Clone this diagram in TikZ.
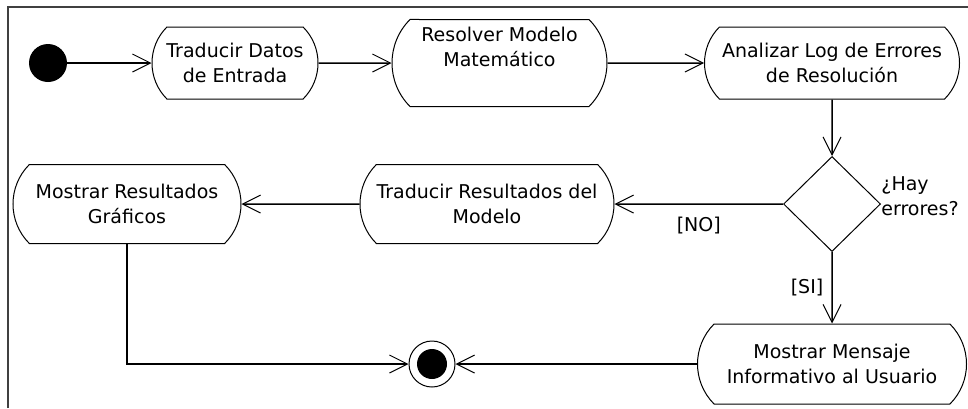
\documentclass[tikz,border=0pt]{standalone}
\usepackage{fontspec}
\setmainfont{DejaVu Sans}
\usetikzlibrary{arrows.meta,shapes.geometric,shapes.misc}

\begin{document}
\begin{tikzpicture}[x=0.5pt,y=-0.5pt,
  action/.style={draw,rounded rectangle,rounded rectangle arc length=90,align=center,inner sep=0pt,
    line width=0.5pt,font=\fontsize{9.5}{12.5}\selectfont},
  flow/.style={line width=0.75pt,-{Straight Barb[length=9pt,width=9pt,line width=0.5pt]}},
  guard/.style={inner sep=0pt,font=\fontsize{9.5}{12.5}\selectfont}]
  \useasboundingbox (0,0) rectangle (968,408);
  \draw[line width=1pt,black!75] (8,408) -- (8,7) -- (968,7);
  \node[circle,fill,minimum size=19pt,inner sep=0pt] (inicio) at (48,63) {};
  \node[action,minimum width=83pt,minimum height=36pt] (traddatos) at (235,63) {Traducir Datos\\de Entrada};
  \node[action,minimum width=107.5pt,minimum height=43.5pt] (resolver) at (499.5,63) {Resolver Modelo\\Matemático\\\strut};
  \node[action,minimum width=127.5pt,minimum height=36pt] (analizar) at (832,63) {Analizar Log de Errores\\de Resolución};
  \node[diamond,draw,line width=0.5pt,minimum width=48.5pt,minimum height=47.5pt,inner sep=0pt] (hayerr) at (832,204) {};
  \node[guard,align=left,anchor=west,yshift=4pt] (pregunta) at (hayerr.east) {¿Hay\\errores?};
  \node[action,minimum width=127pt,minimum height=39.5pt] (tradres) at (487,204) {Traducir Resultados del\\Modelo};
  \node[action,minimum width=114pt,minimum height=39.5pt] (mosres) at (127,204) {Mostrar Resultados\\Gráficos};
  \node[action,minimum width=134.5pt,minimum height=40pt] (mosmsg) at (832,364) {Mostrar Mensaje\\Informativo al Usuario};
  \node[circle,draw,line width=0.5pt,minimum size=23pt,inner sep=0pt] (fin) at (432,364) {};
  \node[circle,fill,minimum size=15pt,inner sep=0pt] (finpunto) at (fin) {};
  \draw[flow] (inicio) -- (traddatos);
  \draw[flow] (traddatos) -- (resolver);
  \draw[flow] (resolver) -- (analizar);
  \draw[flow] (analizar) -- (hayerr);
  \draw[flow] (hayerr) -- node[guard,below=6pt] {[NO]} (tradres);
  \draw[flow] (hayerr) -- node[guard,left=4pt] {[SI]} (mosmsg);
  \draw[flow] (tradres) -- (mosres);
  \draw[flow] (mosres) |- (fin);
  \draw[flow] (mosmsg) -- (fin);
\end{tikzpicture}
\end{document}
